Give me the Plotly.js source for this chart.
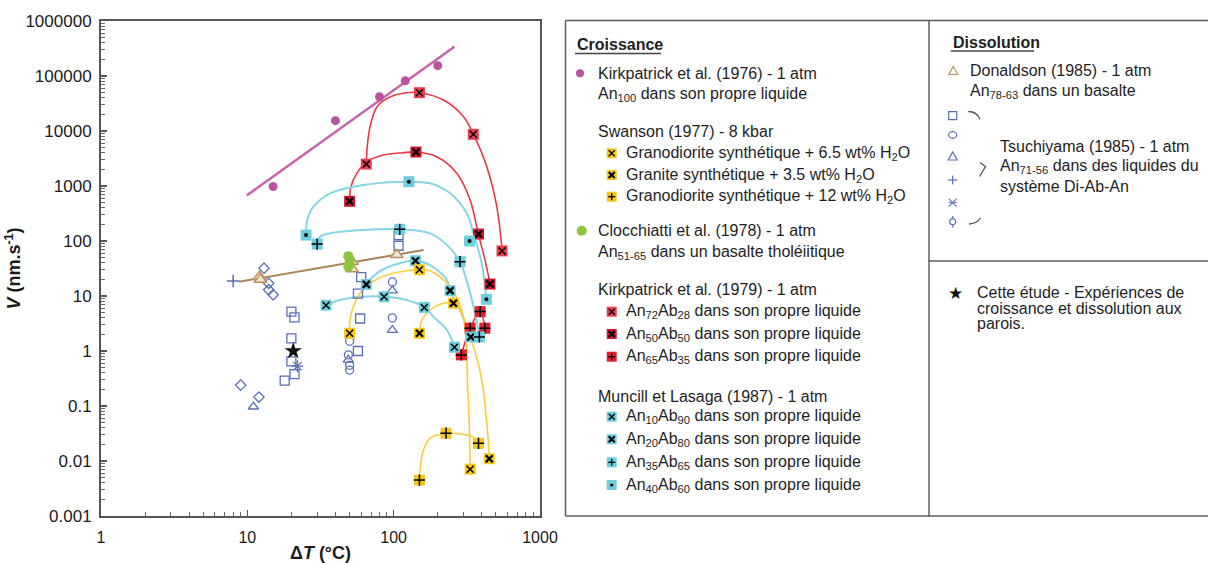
<!DOCTYPE html>
<html><head><meta charset="utf-8">
<script src="https://cdn.plot.ly/plotly-3.0.1.min.js"></script>
<style>html,body{margin:0;padding:0;background:#fff}#chart{width:1208px;height:563px}</style>
</head><body><div id="chart"></div>
<script>
// ---------------- data ----------------
const xTickVals = [1, 10, 100, 1000];
const xTickText = ['1', '10', '100', '1000'];
const yTickVals = [0.001, 0.01, 0.1, 1, 10, 100, 1000, 10000, 100000, 1000000];
const yTickText = ['0.001', '0.01', '0.1', '1', '10', '100', '1000', '10000', '100000', '1000000'];

// Kirkpatrick et al. (1976) - An100
const kirk76X = [15, 40, 80, 120, 200];
const kirk76Y = [980, 15400, 42000, 82000, 154000];
const kirk76FitX = [9.9, 260];
const kirk76FitY = [670, 340000];

// Swanson (1977)
const swanAX = [50, 150, 333];            // granodiorite + 6.5 wt% H2O
const swanAY = [2.1, 30, 0.0071];
const swanACurveX = [50, 50.3, 53, 59, 69, 90, 123, 150, 177, 243, 292, 313, 319, 328, 333];
const swanACurveY = [2.1, 3.66, 6.39, 11.2, 17, 24.1, 28.8, 30, 28.8, 14.8, 5.56, 1.58, 0.3, 0.056, 0.0071];
const swanBX = [150, 256, 450];           // granite + 3.5 wt% H2O
const swanBY = [2.1, 7.4, 0.011];
const swanBCurveX = [150, 156, 177, 219, 256, 284, 316, 360, 400, 437, 451];
const swanBCurveY = [2.1, 3.66, 5.56, 7.36, 7.4, 5.56, 2.77, 0.96, 0.3, 0.0366, 0.011];
const swanCX = [150, 228, 380];           // granodiorite + 12 wt% H2O
const swanCY = [0.0045, 0.032, 0.021];
const swanCCurveX = [150, 153, 160, 177, 228, 284, 342, 380];
const swanCCurveY = [0.0045, 0.0091, 0.0158, 0.0259, 0.032, 0.031, 0.0277, 0.021];

// Clocchiatti et al. (1978)
const clocX = [49, 50, 50, 49];
const clocY = [53, 45, 38, 34];

// Kirkpatrick et al. (1979)
const kirk79AX = [65, 150, 350, 550];
const kirk79AY = [2500, 49700, 8700, 66];
const kirk79ACurveX = [65, 66, 69, 77, 95, 123, 150, 219, 300, 351, 433, 507, 551];
const kirk79ACurveY = [2500, 5200, 12000, 27700, 42000, 49700, 49700, 36600, 18200, 8700, 2240, 420, 66];
const kirk79BX = [50, 142, 380, 455];
const kirk79BY = [527, 4150, 134, 16.5];
const kirk79BCurveX = [50, 51, 56, 65.5, 85, 116, 142, 197, 270, 333, 379, 421, 456];
const kirk79BCurveY = [527, 970, 1700, 2770, 3660, 4030, 4150, 3410, 1700, 556, 134, 45, 16.5];
const kirk79CX = [290, 333, 390, 420];
const kirk79CY = [0.85, 2.6, 5.2, 2.6];

// Muncill et Lasaga (1987)
const munAX = [34.5, 86, 162, 260];
const munAY = [6.8, 9.7, 6.2, 1.17];
const munACurveX = [34.5, 43, 59, 86, 123, 162, 187, 231, 260];
const munACurveY = [6.8, 8.46, 9.7, 9.7, 8.46, 6.2, 4.2, 2.41, 1.17];
const munBX = [65, 141, 243, 336];
const munBY = [16.3, 43.8, 12.5, 1.8];
const munBCurveX = [65, 77, 100, 141, 177, 231, 243, 284, 316, 336];
const munBCurveY = [16.3, 26, 36.6, 43.8, 36.6, 19.5, 12.5, 5.56, 2.77, 1.8];
const munCX = [30, 110, 284, 385];
const munCY = [88, 163, 42, 1.8];
const munCCurveX = [30, 31.4, 36.8, 62, 110, 177, 231, 284, 324, 360, 385];
const munCCurveY = [88, 120, 138, 158, 163, 138, 85, 42, 14.8, 4.85, 1.8];
const munDX = [25.2, 127, 330, 430];
const munDY = [128, 1200, 100, 8.7];
const munDCurveX = [25.2, 25.7, 28.3, 36.8, 62, 127, 177, 243, 316, 351, 400, 430];
const munDCurveY = [128, 241, 420, 736, 1043, 1200, 1120, 736, 319, 138, 39, 8.7];

// Donaldson (1985)
const donX = [12.1, 12.3, 52, 52, 105];
const donY = [22.4, 20, 42, 31, 56];
const donFitX = [8.8, 160];
const donFitY = [18.2, 68.6];

// Tsuchiyama (1985)
const tsuSquareX = [20, 21, 20, 20, 21, 18, 60, 57, 59, 57, 108, 108];
const tsuSquareY = [5.2, 4.1, 1.7, 0.65, 0.38, 0.29, 22, 11, 3.9, 1.0, 128, 82];
const tsuCircleX = [50, 49, 50, 50, 98, 98];
const tsuCircleY = [1.5, 0.85, 0.55, 0.45, 18, 4.0];
const tsuTriX = [11, 49, 98, 98];
const tsuTriY = [0.097, 0.69, 12.5, 2.4];
const tsuPlusX = [8];
const tsuPlusY = [18.7];
const tsuAstX = [22];
const tsuAstY = [0.53];
const tsuPhiX = [13, 14, 14, 15, 9, 12];
const tsuPhiY = [32, 17, 13, 10.5, 0.24, 0.145];

// Cette étude
const thisX = [20.6];
const thisY = [1.0];

// ---------------- styles ----------------
const FONT = 'Liberation Sans, Arial, sans-serif';
const C_MAG = '#b9529f', C_MAGL = '#c862ad';
const C_RED_A = '#ee3d50', C_RED_B = '#d0162c', C_RED_C = '#e51f2e', C_RED_L = '#e8394b';
const C_CYAN = '#6fcde0', C_CYAN_L = '#86d4e4';
const C_YEL = '#f7c619', C_YEL_L = '#f9cd3c';
const C_GREEN = '#8cc63e';
const C_BROWN = '#a98455', C_BROWN_M = '#b9935f';
const C_BLUE = '#5a6fb8';

const traces = [];
function curve(x, y, color, w) {
  traces.push({x, y, type: 'scatter', mode: 'lines', line: {color, width: w, shape: 'spline', smoothing: 1}, hoverinfo: 'skip', showlegend: false});
}
function markers(x, y, symbol, size, color, lineColor, lineW) {
  traces.push({x, y, type: 'scatter', mode: 'markers', showlegend: false,
    marker: {symbol, size, color, line: {color: lineColor, width: lineW}}});
}
function boxed(x, y, fill, sym, symSize, symW) {
  markers(x, y, 'square', 11, fill, fill, 0);
  if (sym === 'dot') markers(x, y, 'circle', 4, '#000', '#000', 0);
  else markers(x, y, sym, symSize, '#000', '#000', symW);
}

// lines
curve(kirk76FitX, kirk76FitY, C_MAGL, 2.5);
curve(donFitX, donFitY, C_BROWN, 2);
curve(kirk79ACurveX, kirk79ACurveY, C_RED_L, 1.6);
curve(kirk79BCurveX, kirk79BCurveY, C_RED_L, 1.6);
curve(kirk79CX, kirk79CY, C_RED_L, 1.6);
curve(munACurveX, munACurveY, C_CYAN_L, 2);
curve(munBCurveX, munBCurveY, C_CYAN_L, 2);
curve(munCCurveX, munCCurveY, C_CYAN_L, 2);
curve(munDCurveX, munDCurveY, C_CYAN_L, 2);
curve(swanACurveX, swanACurveY, C_YEL_L, 1.6);
curve(swanBCurveX, swanBCurveY, C_YEL_L, 1.6);
curve(swanCCurveX, swanCCurveY, C_YEL_L, 1.6);

// open blue markers (Tsuchiyama)
markers(tsuSquareX, tsuSquareY, 'square-open', 9, C_BLUE, C_BLUE, 1.3);
markers(tsuCircleX, tsuCircleY, 'circle-open', 8, C_BLUE, C_BLUE, 1.3);
markers(tsuTriX, tsuTriY, 'triangle-up-open', 9, C_BLUE, C_BLUE, 1.3);
markers(tsuPlusX, tsuPlusY, 'cross-thin-open', 9, C_BLUE, C_BLUE, 1.5);
markers(tsuAstX, tsuAstY, 'asterisk-open', 10, C_BLUE, C_BLUE, 1.3);
markers(tsuPhiX, tsuPhiY, 'diamond-open', 8, C_BLUE, C_BLUE, 1.3);
// Donaldson
markers(donX, donY, 'triangle-up', 11, '#f1e4d2', C_BROWN_M, 1.5);
// Clocchiatti
markers(clocX, clocY, 'circle', 10, C_GREEN, C_GREEN, 0);
// Kirkpatrick 1976
markers(kirk76X, kirk76Y, 'circle', 9, C_MAG, C_MAG, 0);
// boxed markers
boxed(kirk79AX, kirk79AY, C_RED_A, 'x-thin-open', 7, 1.5);
boxed(kirk79BX, kirk79BY, C_RED_B, 'x-thin-open', 7, 2.3);
boxed(kirk79CX, kirk79CY, C_RED_C, 'cross-thin-open', 8, 1.5);
boxed(munAX, munAY, C_CYAN, 'x-thin-open', 7, 1.5);
boxed(munBX, munBY, C_CYAN, 'x-thin-open', 7, 2.3);
boxed(munCX, munCY, C_CYAN, 'cross-thin-open', 8, 1.5);
boxed(munDX, munDY, C_CYAN, 'dot');
boxed(swanAX, swanAY, C_YEL, 'x-thin-open', 7, 1.5);
boxed(swanBX, swanBY, C_YEL, 'x-thin-open', 7, 2.3);
boxed(swanCX, swanCY, C_YEL, 'cross-thin-open', 8, 1.5);
// this study
markers(thisX, thisY, 'star', 13, '#111', '#111', 0);

// ---------------- legend panels (layout, pixel -> paper) ----------------
const PX = x => (x - 101) / 439;
const PY = y => (516 - y) / 495;
const annotations = [], shapes = [];
const TXT = '#1e1e1e';
function txt(x, y, t, extra) {
  annotations.push(Object.assign({xref: 'paper', yref: 'paper', x: PX(x), y: PY(y), text: t, showarrow: false,
    xanchor: 'left', yanchor: 'middle', font: {family: FONT, size: 16, color: TXT}}, extra || {}));
}
function ln(x0, y0, x1, y1, color, w) {
  shapes.push({type: 'line', xref: 'paper', yref: 'paper', x0: PX(x0), y0: PY(y0), x1: PX(x1), y1: PY(y1), line: {color, width: w}});
}
function rect(cx, cy, s, fill, stroke, w) {
  shapes.push({type: 'rect', xref: 'paper', yref: 'paper', x0: PX(cx - s / 2), x1: PX(cx + s / 2), y0: PY(cy + s / 2), y1: PY(cy - s / 2),
    fillcolor: fill, line: {color: stroke, width: w}});
}
function circ(cx, cy, rx, ry, fill, stroke, w) {
  shapes.push({type: 'circle', xref: 'paper', yref: 'paper', x0: PX(cx - rx), x1: PX(cx + rx), y0: PY(cy + ry), y1: PY(cy - ry),
    fillcolor: fill, line: {color: stroke, width: w}});
}
function pth(pts, close, fill, stroke, w) {
  let d = pts.map((p, i) => (i ? 'L' : 'M') + PX(p[0]) + ',' + PY(p[1])).join(' ') + (close ? ' Z' : '');
  shapes.push({type: 'path', xref: 'paper', yref: 'paper', path: d, fillcolor: fill, line: {color: stroke, width: w}});
}
function qpath(x0, y0, cx, cy, x1, y1, stroke, w) {
  const d = 'M' + PX(x0) + ',' + PY(y0) + ' Q' + PX(cx) + ',' + PY(cy) + ' ' + PX(x1) + ',' + PY(y1);
  shapes.push({type: 'path', xref: 'paper', yref: 'paper', path: d, line: {color: stroke, width: w}});
}
function swatch(cx, cy, fill, sym, w) {
  rect(cx, cy, 10, fill, fill, 0);
  if (sym === 'x') { ln(cx - 3, cy - 3, cx + 3, cy + 3, '#000', w); ln(cx - 3, cy + 3, cx + 3, cy - 3, '#000', w); }
  else if (sym === '+') { ln(cx - 3.5, cy, cx + 3.5, cy, '#000', w); ln(cx, cy - 3.5, cx, cy + 3.5, '#000', w); }
  else circ(cx, cy, 1.6, 1.6, '#000', '#000', 0);
}
const GRAY = '#5c5c5c';
// panel frames
ln(565.5, 20.5, 1208, 20.5, GRAY, 1.5);
ln(565.5, 516, 1208, 516, GRAY, 1.5);
ln(565.5, 20.5, 565.5, 516, GRAY, 1.5);
ln(929, 20.5, 929, 516, GRAY, 1.5);
ln(929, 261, 1208, 261, GRAY, 1.5);

// --- Croissance ---
const SX = 611.7, TX = 624, HX = 596;
txt(575, 45, '<b>Croissance</b>');
ln(575, 53.5, 661, 53.5, '#444', 1.5);
circ(580, 73.3, 4, 4, C_MAG, C_MAG, 0);
txt(HX, 73.3, 'Kirkpatrick et al. (1976) - 1 atm');
txt(HX, 95, 'An<sub>100</sub> dans son propre liquide');
txt(HX, 131, 'Swanson (1977) - 8 kbar');
swatch(SX, 153.3, C_YEL, 'x', 1.3);
txt(TX, 153.3, 'Granodiorite synthétique + 6.5 wt% H<sub>2</sub>O');
swatch(SX, 175, C_YEL, 'x', 2);
txt(TX, 175, 'Granite synthétique + 3.5 wt% H<sub>2</sub>O');
swatch(SX, 196.7, C_YEL, '+', 1.3);
txt(TX, 196.7, 'Granodiorite synthétique + 12 wt% H<sub>2</sub>O');
circ(581.7, 230.7, 5, 5, C_GREEN, C_GREEN, 0);
txt(HX, 230.7, 'Clocchiatti et al. (1978) - 1 atm');
txt(HX, 252, 'An<sub>51-65</sub> dans un basalte tholéiitique');
txt(HX, 289.3, 'Kirkpatrick et al. (1979) - 1 atm');
swatch(SX, 311.7, C_RED_A, 'x', 1.3);
txt(TX, 311.7, 'An<sub>72</sub>Ab<sub>28</sub> dans son propre liquide');
swatch(SX, 334, C_RED_B, 'x', 2);
txt(TX, 334, 'An<sub>50</sub>Ab<sub>50</sub> dans son propre liquide');
swatch(SX, 356.7, C_RED_C, '+', 1.3);
txt(TX, 356.7, 'An<sub>65</sub>Ab<sub>35</sub> dans son propre liquide');
txt(HX, 396, 'Muncill et Lasaga (1987) - 1 atm');
swatch(SX, 416.7, C_CYAN, 'x', 1.3);
txt(TX, 416.7, 'An<sub>10</sub>Ab<sub>90</sub> dans son propre liquide');
swatch(SX, 439.3, C_CYAN, 'x', 2);
txt(TX, 439.3, 'An<sub>20</sub>Ab<sub>80</sub> dans son propre liquide');
swatch(SX, 462.3, C_CYAN, '+', 1.3);
txt(TX, 462.3, 'An<sub>35</sub>Ab<sub>65</sub> dans son propre liquide');
swatch(SX, 485, C_CYAN, 'dot', 1);
txt(TX, 485, 'An<sub>40</sub>Ab<sub>60</sub> dans son propre liquide');

// --- Dissolution ---
txt(950.7, 42.7, '<b>Dissolution</b>');
ln(950.7, 51, 1034, 51, '#444', 1.5);
pth([[953.3, 66.5], [957.8, 74.5], [948.8, 74.5]], true, 'rgba(0,0,0,0)', C_BROWN_M, 1.2);
txt(968.3, 70.7, 'Donaldson (1985) - 1 atm');
txt(968.3, 91.7, 'An<sub>78-63</sub> dans un basalte');
const BX = 952.7;
rect(BX, 115.7, 8, 'rgba(0,0,0,0)', C_BLUE, 1.2);
circ(BX, 135, 4, 3.3, 'rgba(0,0,0,0)', C_BLUE, 1.2);
pth([[BX, 152], [BX + 4.5, 160], [BX - 4.5, 160]], true, 'rgba(0,0,0,0)', C_BLUE, 1.2);
ln(BX - 4.5, 180, BX + 4.5, 180, C_BLUE, 1.2); ln(BX, 175.5, BX, 184.5, C_BLUE, 1.2);
ln(BX - 4, 198.7, BX + 4, 206.7, C_BLUE, 1.1); ln(BX - 4, 206.7, BX + 4, 198.7, C_BLUE, 1.1); ln(BX - 4, 202.7, BX + 4, 202.7, C_BLUE, 1.1);
circ(BX, 221.7, 3, 3, 'rgba(0,0,0,0)', C_BLUE, 1.2); ln(BX, 216, BX, 218.5, C_BLUE, 1.2); ln(BX, 225, BX, 227.5, C_BLUE, 1.2);
// brace pieces
qpath(968.3, 111.5, 977, 111.5, 980, 119.5, '#555', 1.3);
pth([[980, 162.5], [985.5, 166.7], [979.5, 176.5]], false, 'rgba(0,0,0,0)', '#555', 1.3);
qpath(969, 224, 977, 223.5, 980.5, 218, '#555', 1.3);
txt(998.3, 146, 'Tsuchiyama (1985) - 1 atm');
txt(998.3, 166.7, 'An<sub>71-56</sub> dans des liquides du');
txt(998.3, 186.7, 'système Di-Ab-An');

// --- Cette étude ---
annotations.push({xref: 'paper', yref: 'paper', x: PX(955), y: PY(292.5), text: '★', showarrow: false,
  xanchor: 'center', yanchor: 'middle', font: {family: 'DejaVu Sans', size: 17, color: '#111'}});
txt(975, 292.7, 'Cette étude - Expériences de');
txt(975, 308.3, 'croissance et dissolution aux');
txt(975, 323.3, 'parois.');

// ---------------- layout ----------------
const axisCommon = {
  type: 'log', tickmode: 'array', ticks: 'inside', ticklen: 6, tickwidth: 1.5, tickcolor: '#555',
  showline: true, linecolor: '#555', linewidth: 2, mirror: true, showgrid: false, zeroline: false,
  tickfont: {family: FONT, size: 16, color: '#1a1a1a'},
  minor: {ticks: 'inside', ticklen: 4, tickwidth: 1, tickcolor: '#666', dtick: 'D1', showgrid: false}
};
const layout = {
  width: 1208, height: 563,
  margin: {l: 101, r: 668, t: 21, b: 47},
  paper_bgcolor: '#fff', plot_bgcolor: '#fff',
  showlegend: false,
  xaxis: Object.assign({}, axisCommon, {
    range: [0, 3], tickvals: xTickVals, ticktext: xTickText, ticklabelstandoff: 6,
    title: {text: '<b>Δ<i>T</i> (°C)</b>', font: {family: FONT, size: 18, color: '#1a1a1a'}, standoff: 4}
  }),
  yaxis: Object.assign({}, axisCommon, {
    range: [-3, 6], tickvals: yTickVals, ticktext: yTickText, ticklabelstandoff: 4,
    tickfont: {family: FONT, size: 17, color: '#1a1a1a'},
    title: {text: '<b><i>V</i> (nm.s<sup>-1</sup>)</b>', font: {family: FONT, size: 18, color: '#1a1a1a'}, standoff: 0}
  }),
  annotations, shapes
};
Plotly.newPlot('chart', traces, layout, {staticPlot: true, displayModeBar: false});
</script></body></html>
